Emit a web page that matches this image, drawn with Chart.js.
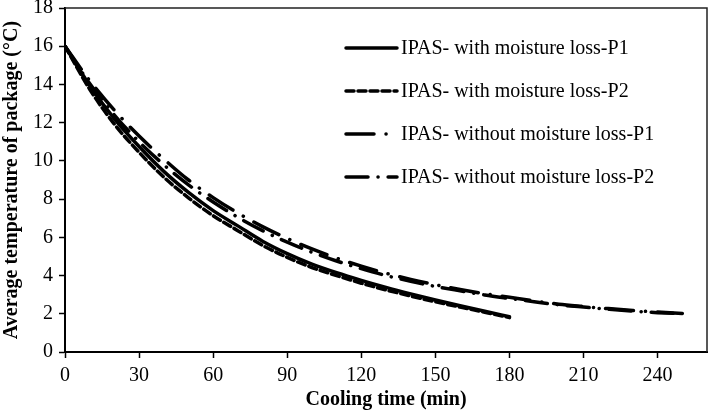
<!DOCTYPE html>
<html><head><meta charset="utf-8">
<script src="https://cdn.jsdelivr.net/npm/chart.js@4/dist/chart.umd.min.js"></script>
<style>html,body{margin:0;padding:0;background:#fff}canvas{display:block}</style>
</head><body>
<canvas id="c" width="709" height="411"></canvas>
<script>
const timeWith = [0,10,20,30,40,50,60,70,80,90,100,110,120,130,140,150,160,170,180];
const withP1 = [16.0,13.95,12.2,10.75,9.45,8.35,7.4,6.6,5.8,5.15,4.6,4.15,3.75,3.38,3.04,2.72,2.42,2.13,1.85];
const withP2 = [16.0,13.75,11.92,10.45,9.15,8.07,7.13,6.35,5.58,4.95,4.42,4.0,3.6,3.25,2.93,2.63,2.35,2.08,1.8];
const timeWithout = [0,10,20,30,40,50,60,70,80,90,100,110,120,130,140,150,160,170,180,190,200,210,220,230,240,250];
const withoutP1 = [16.0,14.2,12.65,11.3,10.1,9.0,8.08,7.27,6.56,5.94,5.39,4.91,4.49,4.12,3.8,3.52,3.27,3.05,2.86,2.67,2.5,2.38,2.27,2.17,2.09,2.02];
const withoutP2 = [16.0,14.05,12.4,11.0,9.8,8.75,7.85,7.05,6.35,5.75,5.22,4.76,4.36,4.0,3.7,3.43,3.2,2.98,2.8,2.63,2.47,2.35,2.24,2.14,2.06,2.0];
const seriesNames = ["IPAS- with moisture loss-P1","IPAS- with moisture loss-P2","IPAS- without moisture loss-P1","IPAS- without moisture loss-P2"];
const xTicks = [0,30,60,90,120,150,180,210,240];
const yTicks = [0,2,4,6,8,10,12,14,16,18];
const xTitle = "Cooling time (min)";
const yTitle = "Average temperature of package (\u00B0C)";

const FONT = "'Liberation Serif','Times New Roman',serif";
Chart.defaults.font.family = FONT;
Chart.defaults.color = '#000';

const pts = (xs, ys) => xs.map((x, i) => ({x, y: ys[i]}));
const styles = [
  {dash: [], width: 3.5},
  {dash: [8, 4], width: 3.5},
  {dash: [28, 12, 0.1, 12], width: 3.5},
  {dash: [22, 10, 0.1, 10], width: 3.5}
];
const dataSets = [pts(timeWith, withP1), pts(timeWith, withP2), pts(timeWithout, withoutP1), pts(timeWithout, withoutP2)];

const legendPlugin = {
  id: 'customLegend',
  afterDraw(chart) {
    const ctx = chart.ctx;
    const rows = [48, 91, 134, 177];
    ctx.save();
    chart.data.datasets.forEach((ds, i) => {
      const y = rows[i];
      ctx.beginPath();
      ctx.setLineDash(ds.borderDash || []);
      ctx.lineWidth = ds.borderWidth;
      ctx.lineCap = 'round';
      ctx.strokeStyle = '#000';
      ctx.moveTo(346, y);
      ctx.lineTo(397, y);
      ctx.stroke();
      ctx.setLineDash([]);
      ctx.font = "20px " + FONT;
      ctx.fillStyle = '#000';
      ctx.textBaseline = 'middle';
      ctx.textAlign = 'left';
      ctx.fillText(ds.label, 401, y + 1);
    });
    ctx.restore();
  }
};
const framePlugin = {
  id: 'frame',
  afterDraw(chart) {
    const {left, right, top, bottom} = chart.chartArea;
    const ctx = chart.ctx;
    ctx.save();
    ctx.strokeStyle = '#222';
    ctx.lineWidth = 1.5;
    ctx.beginPath();
    ctx.moveTo(left, top); ctx.lineTo(right, top); ctx.lineTo(right, bottom);
    ctx.stroke();
    ctx.restore();
  }
};
const bgPlugin = {
  id: 'bg',
  beforeDraw(chart) {
    const ctx = chart.ctx;
    ctx.save(); ctx.fillStyle = '#fff'; ctx.fillRect(0, 0, chart.width, chart.height); ctx.restore();
  }
};

new Chart(document.getElementById('c'), {
  type: 'line',
  data: {
    datasets: dataSets.map((d, i) => ({
      label: seriesNames[i],
      data: d,
      borderColor: '#000',
      borderWidth: styles[i].width,
      borderDash: styles[i].dash,
      borderCapStyle: 'round',
      pointRadius: 0,
      fill: false,
      cubicInterpolationMode: 'monotone'
    }))
  },
  options: {
    responsive: false,
    devicePixelRatio: 1,
    animation: false,
    layout: {padding: {top: 8, right: 2, left: 0, bottom: 0}},
    plugins: {legend: {display: false}, tooltip: {enabled: false}},
    scales: {
      x: {
        type: 'linear', min: 0, max: 260,
        afterBuildTicks(s) { s.ticks = xTicks.map(v => ({value: v})); },
        afterFit(s) { s.height = 59; },
        ticks: {font: {size: 20}, padding: 6, maxRotation: 0, autoSkip: false},
        grid: {drawOnChartArea: false, drawTicks: true, tickLength: 6, tickColor: '#000', tickWidth: 1.5},
        border: {display: true, color: '#000', width: 2},
        title: {display: true, text: xTitle, font: {size: 20, weight: 'bold'}, padding: {top: 0, bottom: -1}}
      },
      y: {
        type: 'linear', min: 0, max: 18,
        afterBuildTicks(s) { s.ticks = yTicks.map(v => ({value: v})); },
        afterFit(s) { s.width = 65; s.paddingTop = 0; s.paddingBottom = 0; },
        ticks: {font: {size: 20}, padding: 6},
        grid: {drawOnChartArea: false, drawTicks: true, tickLength: 6, tickColor: '#000', tickWidth: 1.5},
        border: {display: true, color: '#000', width: 2},
        title: {display: true, text: yTitle, font: {size: 20, weight: 'bold'}, padding: {top: 0, bottom: 0}}
      }
    }
  },
  plugins: [bgPlugin, framePlugin, legendPlugin]
});
</script>
</body></html>
